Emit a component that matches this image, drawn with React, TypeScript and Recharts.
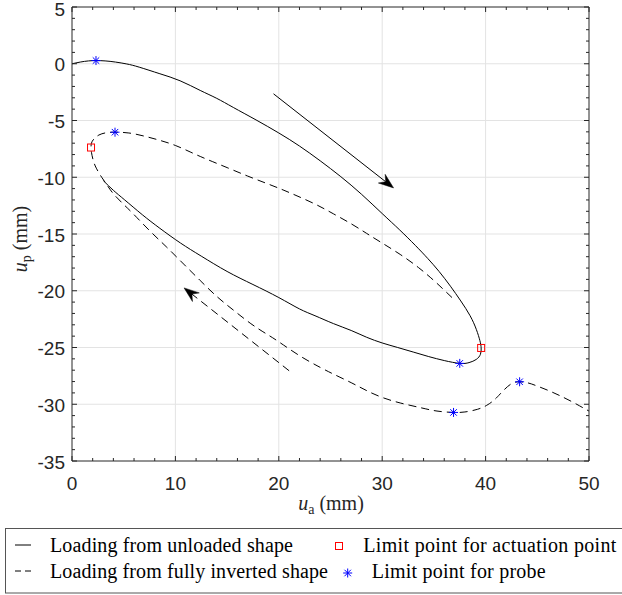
import React from 'react';
import {
  ComposedChart,
  Line,
  Scatter,
  XAxis,
  YAxis,
  CartesianGrid,
  ReferenceLine,
  Legend,
} from 'recharts';

// ---------- data ----------
// Loading from unloaded shape: [u_a (mm), u_p (mm)]
const unloadedPath: [number, number][] = [
  [0, 0], [0.8, 0.15], [1.6, 0.25], [2.32, 0.28], [3.2, 0.25], [4.2, 0.15],
  [5.3, -0.02], [6.5, -0.3], [8.5, -0.88], [10.45, -1.5], [12.4, -2.35],
  [14.0, -3.05], [15.6, -3.85], [17.8, -4.95], [20.0, -6.1], [22.0, -7.25],
  [24.0, -8.55], [26.0, -9.95], [28.0, -11.5], [30.0, -13.2], [31.7, -14.65],
  [33.2, -16.0], [34.4, -17.15], [35.5, -18.3], [36.6, -19.6], [37.6, -20.9],
  [38.5, -22.2], [39.1, -23.4], [39.45, -24.4], [39.57, -25.04], [39.5, -25.6],
  [39.1, -26.05], [38.4, -26.33], [37.5, -26.4], [36.0, -26.15], [34.5, -25.8],
  [33.0, -25.4], [31.5, -25.0], [30.0, -24.6], [28.5, -24.1], [27.0, -23.5],
  [25.3, -22.9], [23.5, -22.2], [22.0, -21.6], [20.0, -20.6], [17.5, -19.45],
  [15.0, -18.3], [12.5, -16.95], [10.5, -15.8], [8.5, -14.5], [6.8, -13.3],
  [5.1, -12.0], [4.0, -11.15], [3.03, -10.3],
];

// Loading from fully inverted shape: [u_a (mm), u_p (mm)]
const invertedPath: [number, number][] = [
  [36.75, -20.6], [36.0, -19.95], [35.0, -19.1], [33.5, -17.95], [31.74, -16.8],
  [30.0, -15.8], [28.5, -14.95], [27.0, -14.1], [25.3, -13.23], [23.7, -12.45],
  [22.06, -11.76], [20.5, -11.15], [18.84, -10.55], [17.0, -9.9], [15.0, -9.15],
  [13.0, -8.4], [11.5, -7.8], [10.0, -7.2], [8.5, -6.75], [7.0, -6.38],
  [5.5, -6.1], [4.16, -6.03], [3.3, -6.08], [2.6, -6.28], [2.1, -6.65],
  [1.88, -7.0], [1.84, -7.38], [1.88, -7.8], [2.05, -8.5], [2.35, -9.2],
  [2.87, -10.0], [3.4, -10.7], [4.0, -11.45], [5.0, -12.4], [5.93, -13.23],
  [7.5, -14.7], [9.17, -16.17], [10.8, -17.65], [12.4, -19.1], [14.0, -20.5],
  [15.6, -21.7], [17.3, -22.9], [18.8, -23.8], [20.0, -24.5], [22.06, -25.75],
  [24.0, -26.75], [25.3, -27.35], [27.0, -28.1], [28.5, -28.8], [30.0, -29.4],
  [31.8, -29.9], [33.7, -30.3], [35.3, -30.6], [36.9, -30.72], [38.0, -30.68],
  [39.2, -30.45], [40.1, -30.1], [40.8, -29.65], [41.4, -29.1], [42.4, -28.25],
  [43.29, -28.02], [44.1, -28.12], [45.0, -28.4], [46.1, -28.8], [47.2, -29.25],
  [48.4, -29.8], [49.5, -30.35], [50.0, -30.6],
];

// Limit points
const actuationLimitPoints: [number, number][] = [
  [39.57, -25.04], [1.84, -7.38],
];
const probeLimitPoints: [number, number][] = [
  [2.32, 0.28], [37.5, -26.4], [4.16, -6.03], [36.9, -30.72], [43.29, -28.02],
];

// Direction arrows: [start, end]
const arrowUnloaded: [number, number][] = [[19.49, -2.65], [31.1, -10.94]];
const arrowInverted: [number, number][] = [[21.0, -27.05], [10.84, -19.75]];

// Axes
const xDomain: [number, number] = [0, 50];
const yDomain: [number, number] = [-35, 5];
const xMajorTicks = [0, 10, 20, 30, 40, 50];
const yMajorTicks = [-35, -30, -25, -20, -15, -10, -5, 0, 5];
const xMinorStep = 2;
const yMinorStep = 1;
const xAllTicks = Array.from({ length: (xDomain[1] - xDomain[0]) / xMinorStep + 1 }, (_, i) => xDomain[0] + i * xMinorStep);
const yAllTicks = Array.from({ length: (yDomain[1] - yDomain[0]) / yMinorStep + 1 }, (_, i) => yDomain[0] + i * yMinorStep);

const legendLabels = [
  'Loading from unloaded shape',
  'Limit point for actuation point',
  'Loading from fully inverted shape',
  'Limit point for probe',
];

// ---------- styling ----------
const AXIS = '#262626';
const GRID = '#e3e3e3';
const SANS = 'Liberation Sans, Arial, Helvetica, sans-serif';
const SERIF = 'Liberation Serif, DejaVu Serif, serif';
const DASH = '8 5';

const toPts = (arr: [number, number][]) => arr.map(([x, y]) => ({ x, y }));

const unloadedData = toPts(unloadedPath);
const invertedData = toPts(invertedPath);
const actuationData = toPts(actuationLimitPoints);
const probeData = toPts(probeLimitPoints);

const isMajor = (v: number, list: number[]) => list.some((m) => Math.abs(m - v) < 1e-9);

const sansStyle = { fontFamily: SANS, fontSize: 19 };
const serifStyle = { fontFamily: SERIF, fontSize: 20 };

const BottomTick = (props: any) => {
  const { x, y, payload } = props;
  const major = isMajor(payload.value, xMajorTicks);
  return (
    <g>
      <line x1={x} x2={x} y1={y} y2={y - (major ? 5 : 3)} stroke={AXIS} strokeWidth={1} />
      {major && (
        <text x={x} y={y + 29} textAnchor="middle" style={sansStyle} fill={AXIS}>
          {payload.value}
        </text>
      )}
    </g>
  );
};

const TopTick = (props: any) => {
  const { x, y, payload } = props;
  const major = isMajor(payload.value, xMajorTicks);
  return <line x1={x} x2={x} y1={y} y2={y + (major ? 5 : 3)} stroke={AXIS} strokeWidth={1} />;
};

const LeftTick = (props: any) => {
  const { x, y, payload } = props;
  const major = isMajor(payload.value, yMajorTicks);
  return (
    <g>
      <line x1={x} x2={x + (major ? 5 : 3)} y1={y} y2={y} stroke={AXIS} strokeWidth={1} />
      {major && (
        <text x={x - 7} y={Math.max(y + 7.5, 15.5)} textAnchor="end" style={sansStyle} fill={AXIS}>
          {payload.value}
        </text>
      )}
    </g>
  );
};

const RightTick = (props: any) => {
  const { x, y, payload } = props;
  const major = isMajor(payload.value, yMajorTicks);
  return <line x1={x} x2={x - (major ? 5 : 3)} y1={y} y2={y} stroke={AXIS} strokeWidth={1} />;
};

const SquareMarker = (props: any) => {
  const { cx, cy } = props;
  if (cx == null || cy == null) return <g />;
  return <rect x={cx - 3.5} y={cy - 3.5} width={7} height={7} fill="none" stroke="#ff0000" strokeWidth={1} />;
};

const StarMarker = (props: any) => {
  const { cx, cy } = props;
  if (cx == null || cy == null) return <g />;
  const r = 4.5;
  const d = r * 0.72;
  return (
    <g stroke="#0000ff" strokeWidth={1}>
      <line x1={cx} x2={cx} y1={cy - r} y2={cy + r} />
      <line x1={cx - r} x2={cx + r} y1={cy} y2={cy} />
      <line x1={cx - d} x2={cx + d} y1={cy - d} y2={cy + d} />
      <line x1={cx - d} x2={cx + d} y1={cy + d} y2={cy - d} />
    </g>
  );
};

const makeArrow = (dashed: boolean) => (props: any) => {
  const { x1, y1, x2, y2 } = props;
  if ([x1, y1, x2, y2].some((v) => v == null || isNaN(v))) return <g />;
  const ang = Math.atan2(y2 - y1, x2 - x1);
  const ux = Math.cos(ang);
  const uy = Math.sin(ang);
  const px = -uy;
  const py = ux;
  const L = 15;
  const W = 5.5;
  const notch = 10;
  const bx = x2 - ux * L;
  const by = y2 - uy * L;
  const nx = x2 - ux * notch;
  const ny = y2 - uy * notch;
  const d = `M${x2},${y2} L${bx + px * W},${by + py * W} L${nx},${ny} L${bx - px * W},${by - py * W} Z`;
  return (
    <g>
      <line x1={x1} y1={y1} x2={nx} y2={ny} stroke="#000" strokeWidth={1} strokeDasharray={dashed ? DASH : undefined} />
      <path d={d} fill="#000" stroke="#000" strokeWidth={0.5} />
    </g>
  );
};

const LegendBox = () => (
  <svg width={622} height={66} style={{ display: 'block' }}>
    <rect x={5.5} y={0.5} width={620} height={64.5} fill="#fff" stroke="#555" strokeWidth={1} />
    <line x1={15} x2={31} y1={17} y2={17} stroke="#000" strokeWidth={1} />
    <text x={50} y={23.7} style={serifStyle} fill="#000" textLength={243} lengthAdjust="spacing">
      {legendLabels[0]}
    </text>
    <rect x={335.5} y={14.5} width={7} height={7} fill="none" stroke="#ff0000" strokeWidth={1} />
    <text x={363.3} y={23.7} style={serifStyle} fill="#000" textLength={253} lengthAdjust="spacing">
      {legendLabels[1]}
    </text>
    <line x1={15} x2={31} y1={43} y2={43} stroke="#000" strokeWidth={1} strokeDasharray="6 4" />
    <text x={50} y={50.3} style={serifStyle} fill="#000" textLength={278} lengthAdjust="spacing">
      {legendLabels[2]}
    </text>
    <StarMarker cx={347.7} cy={45} />
    <text x={371.7} y={50.3} style={serifStyle} fill="#000" textLength={174} lengthAdjust="spacing">
      {legendLabels[3]}
    </text>
  </svg>
);

const XLabel = () => (
  <text x={331} y={510} textAnchor="middle" style={serifStyle} fill={AXIS}>
    <tspan fontStyle="italic">u</tspan>
    <tspan style={{ fontSize: 14 }} dy={4}>a</tspan>
    <tspan dy={-4}> (mm)</tspan>
  </text>
);

const YLabel = () => (
  <text
    x={27}
    y={239}
    textAnchor="middle"
    style={serifStyle}
    fill={AXIS}
    transform="rotate(-90, 27, 239)"
  >
    <tspan fontStyle="italic">u</tspan>
    <tspan style={{ fontSize: 14 }} dy={4}>p</tspan>
    <tspan dy={-4}> (mm)</tspan>
  </text>
);

export default function App() {
  return (
    <div style={{ position: 'absolute', left: 0, top: 0, width: 622, height: 595, background: '#fff' }}>
      <ComposedChart
        width={622}
        height={595}
        margin={{ top: 6, right: 32, bottom: 1, left: 0 }}
      >
        <CartesianGrid
          xAxisId="b"
          yAxisId="l"
          stroke={GRID}
          strokeWidth={1}
          verticalValues={[10, 20, 30, 40]}
          horizontalValues={[-30, -25, -20, -15, -10, -5, 0]}
        />
        <XAxis
          xAxisId="b"
          orientation="bottom"
          type="number"
          dataKey="x"
          domain={xDomain}
          ticks={xAllTicks}
          interval={0}
          allowDataOverflow
          height={67}
          tickSize={0}
          tickMargin={0}
          tick={<BottomTick />}
          axisLine={{ stroke: AXIS, strokeWidth: 1 }}
          tickLine={false}
          label={<XLabel />}
        />
        <XAxis
          xAxisId="t"
          orientation="top"
          type="number"
          dataKey="x"
          domain={xDomain}
          ticks={xAllTicks}
          interval={0}
          allowDataOverflow
          height={1}
          tickSize={0}
          tickMargin={0}
          tick={<TopTick />}
          axisLine={{ stroke: AXIS, strokeWidth: 1 }}
          tickLine={false}
        />
        <YAxis
          yAxisId="l"
          orientation="left"
          type="number"
          dataKey="y"
          domain={yDomain}
          ticks={yAllTicks}
          interval={0}
          allowDataOverflow
          width={72}
          tickSize={0}
          tickMargin={0}
          tick={<LeftTick />}
          axisLine={{ stroke: AXIS, strokeWidth: 1 }}
          tickLine={false}
          label={<YLabel />}
        />
        <YAxis
          yAxisId="r"
          orientation="right"
          type="number"
          dataKey="y"
          domain={yDomain}
          ticks={yAllTicks}
          interval={0}
          allowDataOverflow
          width={1}
          tickSize={0}
          tickMargin={0}
          tick={<RightTick />}
          axisLine={{ stroke: AXIS, strokeWidth: 1 }}
          tickLine={false}
        />

        <Line
          xAxisId="b"
          yAxisId="l"
          data={unloadedData}
          dataKey="y"
          type="natural"
          stroke="#000"
          strokeWidth={1}
          dot={false}
          activeDot={false}
          isAnimationActive={false}
          legendType="none"
        />
        <Line
          xAxisId="b"
          yAxisId="l"
          data={invertedData}
          dataKey="y"
          type="natural"
          stroke="#000"
          strokeWidth={1}
          strokeDasharray={DASH}
          dot={false}
          activeDot={false}
          isAnimationActive={false}
          legendType="none"
        />

        <ReferenceLine
          xAxisId="b"
          yAxisId="l"
          segment={[{ x: arrowUnloaded[0][0], y: arrowUnloaded[0][1] }, { x: arrowUnloaded[1][0], y: arrowUnloaded[1][1] }]}
          ifOverflow="visible"
          shape={makeArrow(false)}
        />
        <ReferenceLine
          xAxisId="b"
          yAxisId="l"
          segment={[{ x: arrowInverted[0][0], y: arrowInverted[0][1] }, { x: arrowInverted[1][0], y: arrowInverted[1][1] }]}
          ifOverflow="visible"
          shape={makeArrow(true)}
        />

        <Scatter
          xAxisId="b"
          yAxisId="l"
          data={actuationData}
          dataKey="y"
          shape={SquareMarker}
          isAnimationActive={false}
          legendType="none"
        />
        <Scatter
          xAxisId="b"
          yAxisId="l"
          data={probeData}
          dataKey="y"
          shape={StarMarker}
          isAnimationActive={false}
          legendType="none"
        />

        <Legend
          verticalAlign="bottom"
          align="left"
          layout="horizontal"
          content={() => <LegendBox />}
          wrapperStyle={{ position: 'absolute', left: 0, bottom: 1, width: 622, height: 66, margin: 0, padding: 0 }}
        />
      </ComposedChart>
    </div>
  );
}
